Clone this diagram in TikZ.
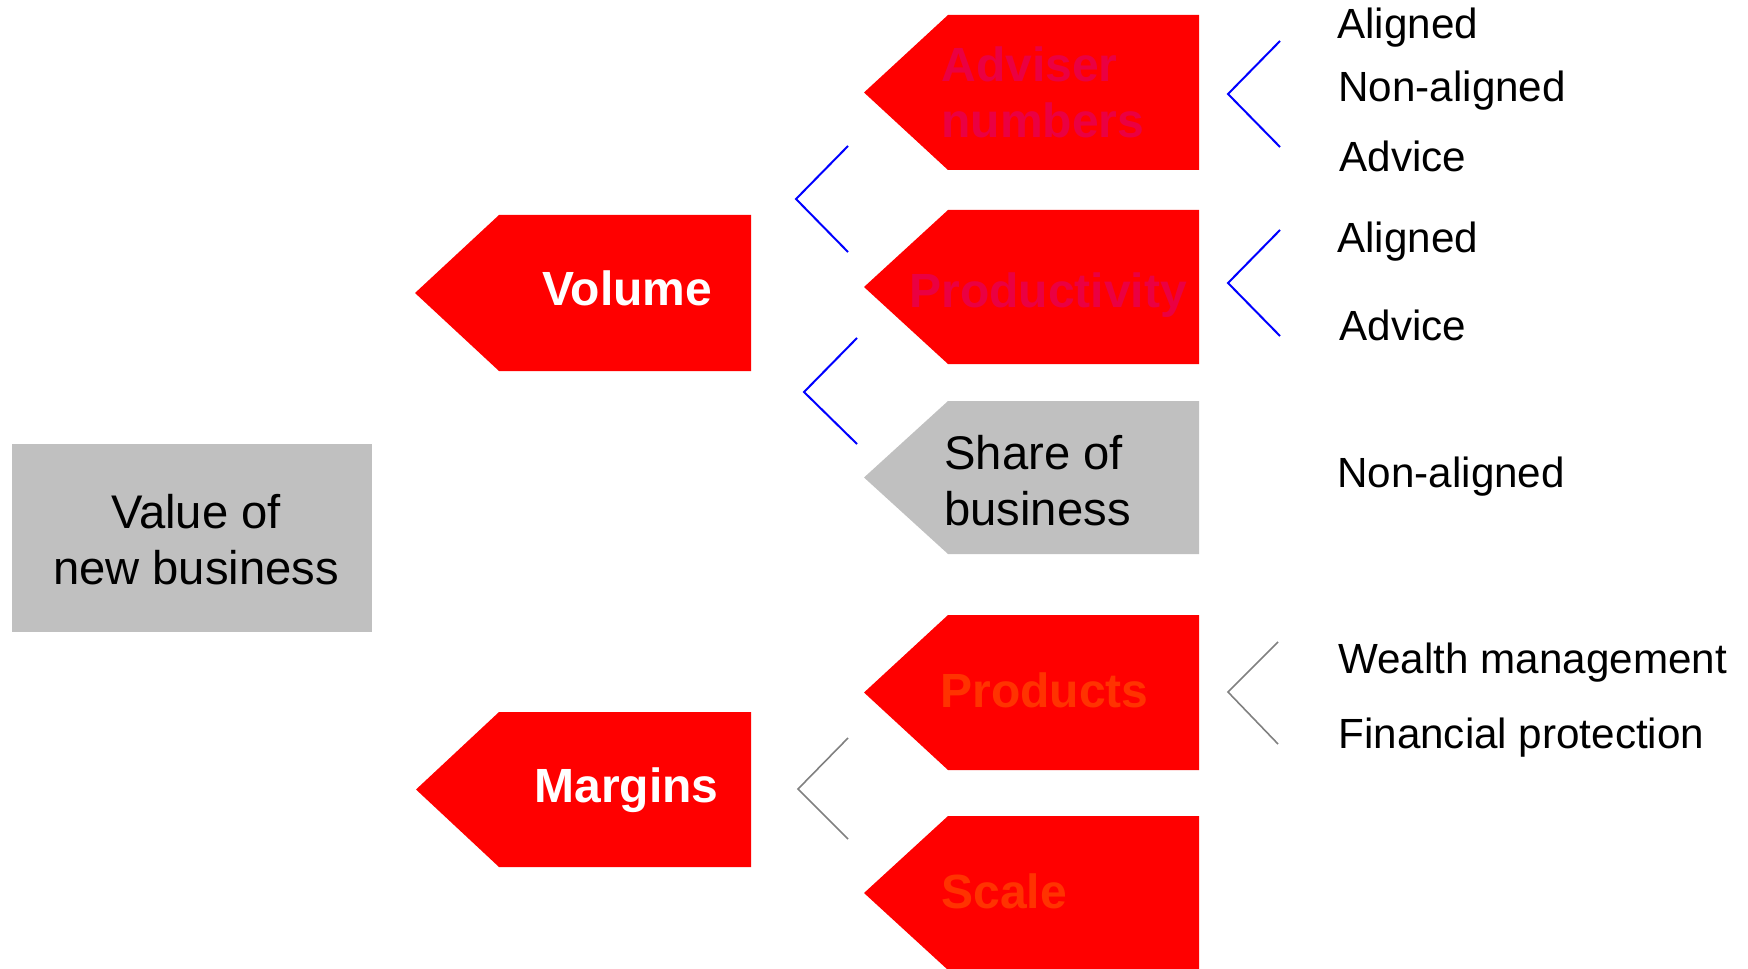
\documentclass[tikz,border=0pt]{standalone}
\usepackage{fontspec}
\setmainfont{Liberation Sans}
\definecolor{tagred}{RGB}{255,0,0}
\definecolor{taggray}{RGB}{192,192,192}
\definecolor{dimred}{RGB}{234,0,66}
\definecolor{dimorange}{RGB}{255,51,0}
\definecolor{linkblue}{RGB}{0,0,255}
\definecolor{linkgray}{RGB}{128,128,128}
\begin{document}
\begin{tikzpicture}[x=0.5pt,y=-0.5pt,
  redtag/.style={fill=tagred},
  graytag/.style={fill=taggray},
  bluelink/.style={draw=linkblue,line width=1pt},
  graylink/.style={draw=linkgray,line width=0.8pt},
  sublabel/.style={inner sep=0pt,anchor=base west,font=\fontsize{21.1}{25}\selectfont},
  tagtext/.style={inner sep=0pt,anchor=base west,align=left,font=\fontsize{24}{28}\selectfont\bfseries},
  plaintext/.style={inner sep=0pt,align=left,font=\fontsize{23.6}{28}\selectfont}]
\useasboundingbox (0,0) rectangle (1748,968);
\clip (0,0) rectangle (1748,968);

% root box
\fill[graytag] (12,444) rectangle (372,632);
\node[plaintext,align=center,anchor=base] (root) at (196,584) {Value of\\new business};

% level 1 tags
\fill[redtag] (415,293) -- (499,215) -- (751,215) -- (751,371) -- (499,371) -- cycle;
\node[tagtext,text=white] (volume) at (542,305) {Volume};
\fill[redtag] (416,789.5) -- (499,712) -- (751,712) -- (751,867) -- (499,867) -- cycle;
\node[tagtext,text=white] (margins) at (534,802) {Margins};

% level 2 tags
\fill[redtag] (864,92.5) -- (948,15) -- (1199,15) -- (1199,170) -- (948,170) -- cycle;
\node[tagtext,text=dimred] (adviser) at (941,138) {Adviser\\numbers};
\fill[redtag] (864,287) -- (948,210) -- (1199,210) -- (1199,364) -- (948,364) -- cycle;
\node[tagtext,text=dimred] (productivity) at (909,307) {Productivity};
\fill[graytag] (864,477.5) -- (948,401) -- (1199,401) -- (1199,554) -- (948,554) -- cycle;
\node[plaintext,anchor=base west] (share) at (944,525) {Share of\\business};
\fill[redtag] (864,692.5) -- (948,615) -- (1199,615) -- (1199,770) -- (948,770) -- cycle;
\node[tagtext,text=dimorange] (products) at (940,707) {Products};
\fill[redtag] (864,893) -- (948,816) -- (1199,816) -- (1199,970) -- (948,970) -- cycle;
\node[tagtext,text=dimorange] (scale) at (941,908) {Scale};

% right labels
\node[sublabel] (al1) at (1337,39) {Aligned};
\node[sublabel] (na1) at (1338,102) {Non-aligned};
\node[sublabel] (ad1) at (1339,172) {Advice};
\node[sublabel] (al2) at (1337,252) {Aligned};
\node[sublabel] (ad2) at (1339,340) {Advice};
\node[sublabel] (na2) at (1337,487) {Non-aligned};
\node[sublabel] (wm) at (1338,673) {Wealth management};
\node[sublabel] (fp) at (1338,748) {Financial protection};

% bracket coordinates
\coordinate (b1t) at (1280,41);  \coordinate (b1v) at (1228,94);  \coordinate (b1b) at (1280,147);
\coordinate (b2t) at (1280,230); \coordinate (b2v) at (1228,283); \coordinate (b2b) at (1280,336);
\coordinate (b3t) at (848,146);  \coordinate (b3v) at (796,199);  \coordinate (b3b) at (848,252);
\coordinate (b4t) at (857,338);  \coordinate (b4v) at (804,392);  \coordinate (b4b) at (857,444);
\coordinate (g1t) at (848,738);  \coordinate (g1v) at (798,789);  \coordinate (g1b) at (848,839);
\coordinate (g2t) at (1278,642); \coordinate (g2v) at (1228,692); \coordinate (g2b) at (1278,744);

\draw[bluelink] (b1t) -- (b1v) -- (b1b);
\draw[bluelink] (b2t) -- (b2v) -- (b2b);
\draw[bluelink] (b3t) -- (b3v) -- (b3b);
\draw[bluelink] (b4t) -- (b4v) -- (b4b);
\draw[graylink] (g1t) -- (g1v) -- (g1b);
\draw[graylink] (g2t) -- (g2v) -- (g2b);
\end{tikzpicture}
\end{document}
